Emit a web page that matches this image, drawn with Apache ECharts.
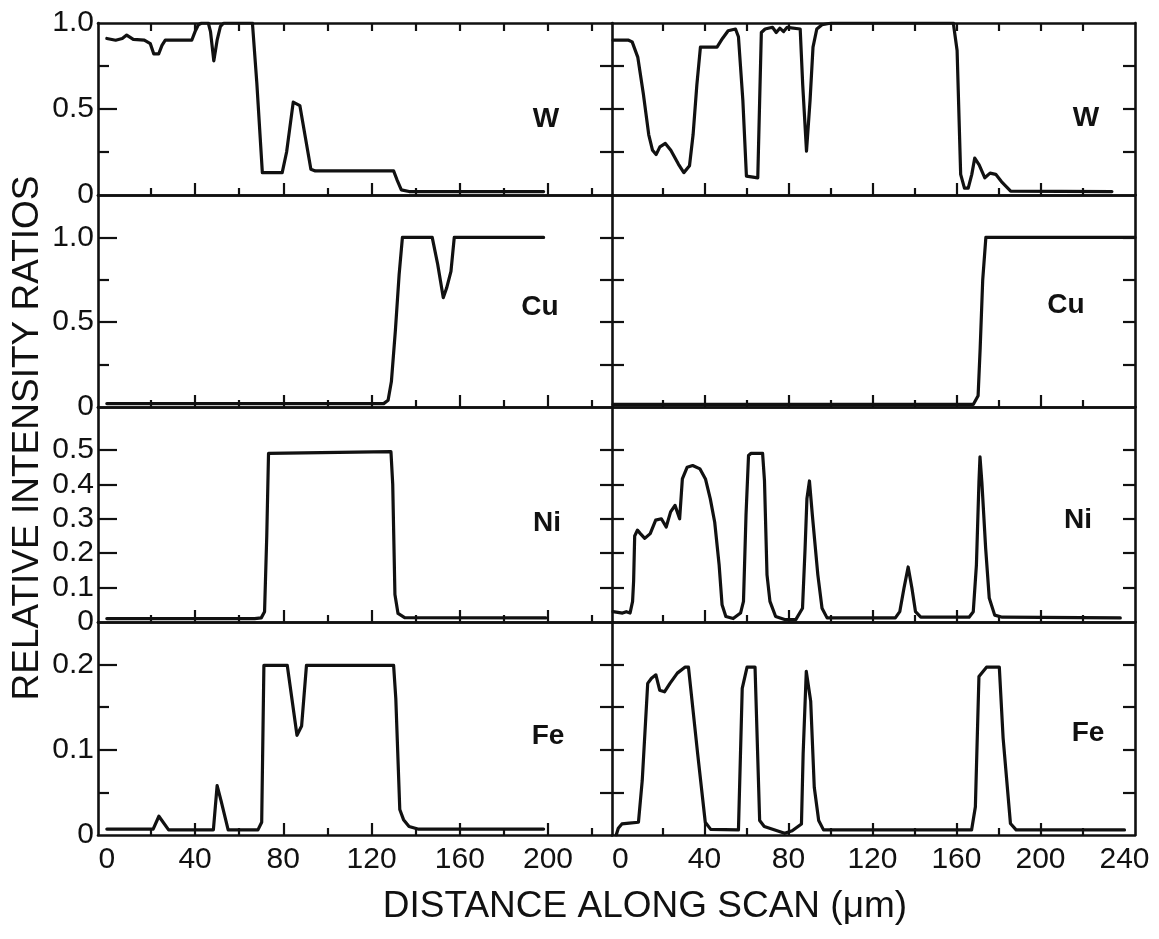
<!DOCTYPE html>
<html><head><meta charset="utf-8">
<script src="https://cdn.jsdelivr.net/npm/echarts@6/dist/echarts.min.js"></script>
<style>html,body{margin:0;padding:0;background:#fff}#c{width:1159px;height:939px}</style>
</head><body><div id="c"></div>
<script>
// ---- data (x in micrometres, y = relative intensity ratio) ----
const ELEMENTS = ['W', 'Cu', 'Ni', 'Fe'];

const W_LEFT = [[0,0.91],[4,0.90],[7,0.91],[9,0.93],[12,0.905],[17,0.90],[19.7,0.88],[21.3,0.82],[23.5,0.82],[25,0.87],[26.5,0.90],[38.5,0.90],[40,0.95],[41.5,0.99],[43,1.0],[46,1.0],[47,0.95],[48.5,0.78],[50,0.90],[51.5,0.98],[53,1.0],[66,1.0],[68,0.65],[70.5,0.13],[79.5,0.13],[81.5,0.25],[84.5,0.54],[87.5,0.52],[92.5,0.15],[94.5,0.14],[130,0.14],[131.5,0.09],[133.5,0.03],[137,0.02],[198,0.02]];
const CU_LEFT = [[0,0.02],[125.5,0.02],[127.5,0.04],[129,0.15],[130.8,0.45],[132.5,0.78],[134,1.0],[147.5,1.0],[150,0.84],[152.5,0.645],[154,0.70],[156,0.80],[157.5,1.0],[198,1.0]];
const NI_LEFT = [[0,0.01],[67,0.01],[70,0.012],[71.5,0.03],[72.5,0.25],[73.3,0.49],[74,0.495],[128.8,0.495],[129.6,0.40],[130.6,0.08],[132,0.025],[135,0.013],[199,0.012]];
const FE_LEFT = [[0,0.007],[21,0.007],[23.6,0.022],[28,0.006],[48.3,0.006],[50,0.058],[51.8,0.04],[55,0.006],[68.5,0.006],[70.2,0.015],[71.2,0.199],[81.8,0.199],[86.2,0.117],[88.3,0.128],[90.5,0.199],[130,0.199],[131,0.16],[132.8,0.03],[134.5,0.018],[137,0.01],[141,0.007],[198,0.007]];

const W_RIGHT = [[-3.5,0.90],[3.9,0.90],[5.6,0.89],[8.3,0.80],[10.9,0.59],[13.5,0.35],[15.3,0.26],[17,0.235],[18.8,0.28],[21.4,0.30],[24,0.26],[27.6,0.18],[30.2,0.13],[32.9,0.17],[34.6,0.35],[36.4,0.64],[38.1,0.86],[46,0.86],[48.6,0.91],[51.3,0.955],[54.8,0.965],[56.2,0.92],[58.3,0.55],[60,0.11],[65.4,0.10],[66.3,0.55],[67.1,0.945],[68.9,0.965],[72.4,0.975],[74.2,0.945],[75.9,0.97],[77.7,0.95],[79.4,0.975],[85.6,0.965],[86.8,0.64],[88.6,0.255],[90.3,0.55],[91.7,0.86],[93.5,0.965],[96,0.99],[100.5,1.0],[158.5,1.0],[160.3,0.84],[162,0.12],[163.8,0.04],[165.6,0.04],[167.3,0.12],[168.7,0.215],[170.8,0.175],[173.5,0.10],[176,0.127],[178.7,0.12],[181.4,0.078],[185.8,0.023],[234,0.02]];
const CU_RIGHT = [[-3.5,0.015],[168,0.015],[170.3,0.066],[171.3,0.35],[172.5,0.75],[174,1.0],[245,1.0]];
const NI_RIGHT = [[-3.5,0.03],[1,0.026],[2.8,0.03],[4.6,0.026],[5.8,0.06],[6.3,0.12],[6.8,0.25],[8.1,0.267],[9.5,0.257],[11.6,0.243],[14.2,0.257],[16.8,0.296],[19.5,0.30],[21.8,0.276],[23.9,0.32],[26,0.339],[28.2,0.30],[29.5,0.416],[31.8,0.45],[34.4,0.455],[37.9,0.445],[40.5,0.416],[42.8,0.358],[44.9,0.29],[47,0.166],[48.4,0.05],[50.2,0.016],[53.7,0.01],[57.2,0.026],[58.6,0.06],[59.8,0.31],[61,0.484],[62.1,0.49],[67.7,0.49],[68.6,0.41],[69.8,0.137],[71.2,0.06],[73.9,0.016],[78.2,0.007],[83.5,0.007],[86.7,0.04],[87.9,0.21],[88.8,0.358],[90,0.41],[91.4,0.31],[94,0.137],[96,0.04],[98.4,0.012],[130.9,0.012],[133,0.03],[135,0.098],[137,0.16],[138.8,0.098],[140.5,0.03],[143,0.014],[166,0.014],[168,0.03],[169.5,0.166],[170.7,0.406],[171.2,0.48],[172.1,0.406],[173.9,0.214],[175.6,0.07],[178.2,0.02],[181.8,0.014],[238,0.012]];
const FE_RIGHT = [[-2,0.0],[-1,0.008],[0.7,0.013],[4.2,0.014],[8.6,0.015],[10.4,0.064],[13,0.178],[14.8,0.184],[16.9,0.188],[18.7,0.17],[21,0.168],[23.6,0.178],[27.1,0.19],[30.7,0.197],[32.4,0.197],[36.8,0.095],[40.4,0.015],[43,0.0066],[56.2,0.006],[58,0.172],[60.3,0.197],[64.1,0.197],[66.3,0.017],[68.5,0.01],[78.2,0.002],[81.8,0.005],[86.2,0.013],[87,0.095],[88.5,0.192],[90.6,0.157],[92.3,0.056],[94.4,0.017],[96.7,0.006],[167.2,0.006],[169,0.033],[170.7,0.186],[174.3,0.197],[180.4,0.197],[182.2,0.114],[185.7,0.0135],[188.4,0.006],[240,0.006]];

// tick / label values
const Y_MAX = [1.0, 1.25, 0.625, 0.25];
const Y_LABELS = [[0,0.5,1.0],[0,0.5,1.0],[0,0.1,0.2,0.3,0.4,0.5],[0,0.1,0.2]];
const Y_MINOR = [[0.25,0.75],[0.25,0.75],[],[0.05,0.15]];
const X_LABELS_LEFT = [0,40,80,120,160,200];
const X_LABELS_RIGHT = [0,40,80,120,160,200,240];
const X_TICKS_SHORT = [20,60,100,140,180,220];
const X_TICKS_LONG = [40,80,120,160,200];
const X_TICKS_ALL = [20,40,60,80,100,120,140,160,180,200,220];

const LEFT_DATA = [W_LEFT, CU_LEFT, NI_LEFT, FE_LEFT];
const RIGHT_DATA = [W_RIGHT, CU_RIGHT, NI_RIGHT, FE_RIGHT];

// ---- layout ----
const ROW_TOP = [23, 195, 407, 622];
const ROW_H = [172, 212, 215, 213];
const COLS = [
  {left: 98, width: 514, min: -4, max: 229},
  {left: 612, width: 523, min: -4, max: 245}
];
const INK = '#111';
const FONT = '"Liberation Sans", Arial, sans-serif';
const frame = {color: INK, width: 2.6};
const tickStyle = {color: INK, width: 2.2};

const grids = [], xAxes = [], yAxes = [], series = [];

for (let r = 0; r < 4; r++) {
  for (let c = 0; c < 2; c++) {
    const col = COLS[c];
    const g = grids.length;
    grids.push({left: col.left, top: ROW_TOP[r], width: col.width, height: ROW_H[r], containLabel: false});
    const isBottom = r === 3;
    const xMain = xAxes.length;
    xAxes.push({
      type: 'value', gridIndex: g, min: col.min, max: col.max, position: 'bottom',
      axisLine: {show: true, onZero: false, lineStyle: frame},
      axisTick: {show: true, inside: true, length: 7, customValues: X_TICKS_SHORT, lineStyle: tickStyle},
      axisLabel: {show: isBottom, customValues: c === 0 ? X_LABELS_LEFT : X_LABELS_RIGHT,
        fontSize: 30, color: INK, fontFamily: FONT, margin: 10},
      splitLine: {show: false}
    });
    xAxes.push({
      type: 'value', gridIndex: g, min: col.min, max: col.max, position: 'bottom',
      axisLine: {show: false, onZero: false},
      axisTick: {show: true, inside: true, length: 12, customValues: X_TICKS_LONG, lineStyle: tickStyle},
      axisLabel: {show: false}, splitLine: {show: false}
    });
    xAxes.push({
      type: 'value', gridIndex: g, min: col.min, max: col.max, position: 'top',
      axisLine: {show: true, onZero: false, lineStyle: frame},
      axisTick: {show: r === 0, inside: true, length: 8, customValues: X_TICKS_ALL, lineStyle: tickStyle},
      axisLabel: {show: false}, splitLine: {show: false}
    });

    const yMax = Y_MAX[r];
    const major = Y_LABELS[r].filter(v => v > 0 && v < yMax - 1e-9);
    const all = major.concat(Y_MINOR[r]);
    const yMain = yAxes.length;
    yAxes.push({
      type: 'value', gridIndex: g, min: 0, max: yMax, position: 'left',
      axisLine: {show: true, onZero: false, lineStyle: frame},
      axisTick: {show: true, inside: true, length: c === 0 ? 19 : 12,
        customValues: c === 0 ? major : all, lineStyle: tickStyle},
      axisLabel: {show: c === 0, customValues: Y_LABELS[r],
        formatter: v => (v === 0 ? '0' : v.toFixed(1)),
        fontSize: 30, color: INK, fontFamily: FONT, margin: 4},
      splitLine: {show: false}
    });
    if (c === 0) {
      if (Y_MINOR[r].length) {
        yAxes.push({
          type: 'value', gridIndex: g, min: 0, max: yMax, position: 'left',
          axisLine: {show: false, onZero: false},
          axisTick: {show: true, inside: true, length: 11, customValues: Y_MINOR[r], lineStyle: tickStyle},
          axisLabel: {show: false}, splitLine: {show: false}
        });
      }
    } else {
      yAxes.push({
        type: 'value', gridIndex: g, min: 0, max: yMax, position: 'left',
        axisLine: {show: false, onZero: false},
        axisTick: {show: true, inside: false, length: 12, customValues: all, lineStyle: tickStyle},
        axisLabel: {show: false}, splitLine: {show: false}
      });
      yAxes.push({
        type: 'value', gridIndex: g, min: 0, max: yMax, position: 'right',
        axisLine: {show: true, onZero: false, lineStyle: frame},
        axisTick: {show: true, inside: true, length: 12, customValues: all, lineStyle: tickStyle},
        axisLabel: {show: false}, splitLine: {show: false}
      });
    }

    series.push({
      type: 'line', name: ELEMENTS[r] + (c === 0 ? ' a' : ' b'),
      xAxisIndex: xMain, yAxisIndex: yMain,
      data: (c === 0 ? LEFT_DATA : RIGHT_DATA)[r],
      showSymbol: false, symbol: 'none', smooth: false,
      lineStyle: {color: INK, width: 3.2, join: 'round', cap: 'round'},
      z: 3, silent: true
    });
  }
}

// element labels (text positions inside each panel)
const LABEL_POS = [[[546,119],[1086,118]],[[540,307],[1066,305]],[[547,523],[1078,520]],[[548,736],[1088,733]]];
const graphic = [];
for (let r = 0; r < 4; r++) {
  for (let c = 0; c < 2; c++) {
    graphic.push({type: 'text', x: LABEL_POS[r][c][0], y: LABEL_POS[r][c][1],
      style: {text: ELEMENTS[r], font: 'bold 28px ' + FONT, fill: INK, textAlign: 'center', textVerticalAlign: 'middle'}});
  }
}
graphic.push({type: 'text', x: 28, y: 438, rotation: Math.PI / 2,
  style: {text: 'RELATIVE INTENSITY RATIOS', font: '37px ' + FONT, fill: INK, textAlign: 'center', textVerticalAlign: 'middle'}});
graphic.push({type: 'text', x: 645, y: 907,
  style: {text: 'DISTANCE ALONG SCAN (\u03bcm)', font: '37px ' + FONT, fill: INK, textAlign: 'center', textVerticalAlign: 'middle'}});

const chart = echarts.init(document.getElementById('c'), null, {renderer: 'canvas'});
chart.setOption({
  backgroundColor: '#ffffff',
  animation: false,
  grid: grids, xAxis: xAxes, yAxis: yAxes, series: series,
  graphic: graphic
});
</script>
</body></html>
